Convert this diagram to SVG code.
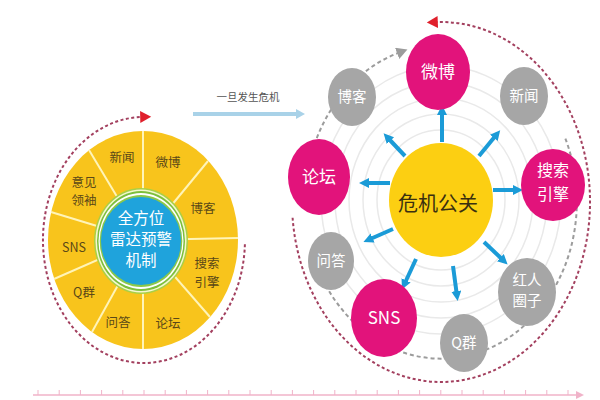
<svg xmlns="http://www.w3.org/2000/svg" width="600" height="400" viewBox="0 0 600 400">
<style>
.wl{font-family:"Noto Sans CJK SC","Noto Sans",sans-serif;font-size:12.5px;fill:#5a4818;text-anchor:middle}
.bt{font-family:"Noto Sans CJK SC","Noto Sans",sans-serif;font-size:15.5px;fill:#fff;text-anchor:middle}
.pk{fill:#e2137b}
.gy{fill:#a6a6a6}
.pt{font-family:"Noto Sans CJK SC","Noto Sans",sans-serif;font-size:17px;fill:#fff;text-anchor:middle}
.pt2{font-family:"Noto Sans CJK SC","Noto Sans",sans-serif;font-size:16px;fill:#fff;text-anchor:middle}
.gt{font-family:"Noto Sans CJK SC","Noto Sans",sans-serif;font-size:14.5px;fill:#fff;text-anchor:middle}
.div{stroke:#fff4b8;stroke-width:2}
.ring{fill:none;stroke:#e9e9e9;stroke-width:1.5}
.barr{stroke:#1b9bd7;stroke-width:4;fill:none;marker-end:url(#ba)}
.rd{fill:none;stroke:#a3405f;stroke-width:2;stroke-dasharray:3 2.5}
.gd{fill:none;stroke:#9c9c9c;stroke-width:2;stroke-dasharray:4 3}
</style>
<defs>
<marker id="ba" markerUnits="userSpaceOnUse" markerWidth="12" markerHeight="12" refX="5" refY="5" orient="auto"><path d="M0,0 L10,5 L0,10 z" fill="#1b9bd7"/></marker>
<marker id="ra" markerUnits="userSpaceOnUse" markerWidth="14" markerHeight="14" refX="2" refY="6" orient="auto"><path d="M0,0 L11,6 L0,12 z" fill="#e0202c"/></marker>
<marker id="ga" markerUnits="userSpaceOnUse" markerWidth="14" markerHeight="14" refX="2" refY="6" orient="auto"><path d="M0,0 L11,6 L0,12 z" fill="#9c9c9c"/></marker>
<marker id="la" markerUnits="userSpaceOnUse" markerWidth="12" markerHeight="12" refX="2" refY="5" orient="auto"><path d="M0,0 L9,5 L0,10 z" fill="#a9d2e8"/></marker>
<marker id="pa" markerUnits="userSpaceOnUse" markerWidth="12" markerHeight="12" refX="2" refY="4" orient="auto"><path d="M0,0 L8,4 L0,8 z" fill="#f0b3c9"/></marker>
</defs>
<rect width="600" height="400" fill="#ffffff"/>

<g id="radar-wheel">
<ellipse cx="143" cy="240" rx="95" ry="109" fill="#f8c41c"/>
<line class="div" x1="143" y1="240" x2="143" y2="131"/>
<line class="div" x1="143" y1="240" x2="208" y2="161"/>
<line class="div" x1="143" y1="240" x2="238" y2="238"/>
<line class="div" x1="143" y1="240" x2="210" y2="317"/>
<line class="div" x1="143" y1="240" x2="143" y2="349"/>
<line class="div" x1="143" y1="240" x2="92" y2="332"/>
<line class="div" x1="143" y1="240" x2="54" y2="279"/>
<line class="div" x1="143" y1="240" x2="51" y2="212"/>
<line class="div" x1="143" y1="240" x2="89" y2="150"/>
<ellipse cx="141" cy="241" rx="47" ry="53" fill="#a9d046"/>
<ellipse cx="141" cy="241" rx="45.5" ry="51.5" fill="#f4f7d0"/>
<ellipse cx="141" cy="241" rx="44" ry="50" fill="#7dbf3c"/>
<ellipse cx="141" cy="241" rx="42.5" ry="48" fill="#ffffff"/>
<ellipse cx="141" cy="241" rx="41.3" ry="46" fill="#8cc84a"/>
<ellipse cx="141" cy="241" rx="40" ry="44" fill="#1fa3dc"/>
<text class="bt" x="141" y="224">全方位</text>
<text class="bt" x="141" y="245">雷达预警</text>
<text class="bt" x="141" y="266">机制</text>
</g>
<g id="wheel-labels">
<text class="wl" x="122" y="162">新闻</text>
<text class="wl" x="168" y="167">微博</text>
<text class="wl" x="203" y="213">博客</text>
<text class="wl" x="207" y="268">搜索</text>
<text class="wl" x="207" y="287">引擎</text>
<text class="wl" x="168" y="328">论坛</text>
<text class="wl" x="118" y="327">问答</text>
<text class="wl" x="84" y="297">Q群</text>
<text class="wl" x="74" y="252">SNS</text>
<text class="wl" x="84" y="187">意见</text>
<text class="wl" x="84" y="205">领袖</text>
</g>

<g id="rings">
<ellipse class="ring" cx="441" cy="200" rx="64" ry="70"/>
<ellipse class="ring" cx="441" cy="200" rx="78" ry="86"/>
<ellipse class="ring" cx="441" cy="200" rx="92" ry="102"/>
<ellipse class="ring" cx="441" cy="200" rx="106" ry="118"/>
<ellipse class="ring" cx="441" cy="200" rx="120" ry="134"/>
</g>

<g id="connectors">
<path class="rd" d="M244.9,244.3 A101,123 0 1 1 142.2,117" marker-end="url(#ra)"/>
<path class="rd" d="M292.6,217.7 A149,180 0 1 0 435.8,22.1" marker-end="url(#ra)"/>
<path class="gd" d="M316.8,138.1 A136,157 0 0 1 399,52.7" marker-end="url(#ga)"/>
<path class="gd" d="M325.7,285.2 A136,157 0 0 0 565.2,138.1"/>
<line x1="193" y1="114" x2="298" y2="114" stroke="#a9d2e8" stroke-width="4" marker-end="url(#la)"/>
<line class="barr" x1="442" y1="142" x2="442" y2="110"/>
<line class="barr" x1="405" y1="156" x2="387" y2="137"/>
<line class="barr" x1="479" y1="156" x2="497" y2="134"/>
<line class="barr" x1="390" y1="183" x2="364" y2="183"/>
<line class="barr" x1="493" y1="190" x2="518" y2="190"/>
<line class="barr" x1="393" y1="229" x2="368" y2="240"/>
<line class="barr" x1="416" y1="259" x2="404" y2="285"/>
<line class="barr" x1="453" y1="266" x2="457" y2="296"/>
<line class="barr" x1="484" y1="242" x2="504" y2="261"/>
</g>
<text x="248" y="101" font-family="Noto Sans CJK SC, Noto Sans, sans-serif" font-size="10.5" fill="#555" text-anchor="middle">一旦发生危机</text>

<g id="crisis-pr">
<ellipse cx="441" cy="200" rx="52" ry="57" fill="#fccf12"/>
<text x="438" y="211" font-family="Noto Sans CJK SC, Noto Sans, sans-serif" font-size="20" fill="#3a2f10" text-anchor="middle">危机公关</text>
</g>
<g id="node-weibo"><ellipse class="pk" cx="438" cy="72" rx="32" ry="38"/><text class="pt" x="438" y="78">微博</text></g>
<g id="node-boke"><ellipse class="gy" cx="352" cy="97" rx="24" ry="29"/><text class="gt" x="352" y="102">博客</text></g>
<g id="node-xinwen"><ellipse class="gy" cx="524" cy="96" rx="24" ry="29"/><text class="gt" x="524" y="101">新闻</text></g>
<g id="node-luntan"><ellipse class="pk" cx="319" cy="177" rx="31" ry="38"/><text class="pt" x="319" y="183">论坛</text></g>
<g id="node-sousuo"><ellipse class="pk" cx="553" cy="185" rx="32" ry="36"/><text class="pt2" x="553" y="176">搜索</text><text class="pt2" x="553" y="200">引擎</text></g>
<g id="node-wenda"><ellipse class="gy" cx="331" cy="261" rx="23" ry="29"/><text class="gt" x="331" y="266">问答</text></g>
<g id="node-sns"><ellipse class="pk" cx="384" cy="318" rx="33" ry="39"/><text class="pt" x="384" y="324">SNS</text></g>
<g id="node-qq"><ellipse class="gy" cx="464" cy="343" rx="24" ry="29"/><text class="gt" x="464" y="348">Q群</text></g>
<g id="node-hongren"><ellipse class="gy" cx="527" cy="292" rx="29" ry="34"/><text class="gt" x="527" y="285">红人</text><text class="gt" x="527" y="306">圈子</text></g>

<g id="timeline">
<line x1="33" y1="395" x2="578" y2="395" stroke="#f0b3c9" stroke-width="1.5" marker-end="url(#pa)"/>
<path d="M38,390v5M59.2,390v5M80.4,390v5M101.6,390v5M122.8,390v5M144,390v5M165.2,390v5M186.4,390v5M207.6,390v5M228.8,390v5M250,390v5M271.2,390v5M292.4,390v5M313.6,390v5M334.8,390v5M356,390v5M377.2,390v5M398.4,390v5M419.6,390v5M440.8,390v5M462,390v5M483.2,390v5M504.4,390v5M525.6,390v5M546.8,390v5M568,390v5" stroke="#f0b3c9" stroke-width="1"/>
</g>
</svg>
